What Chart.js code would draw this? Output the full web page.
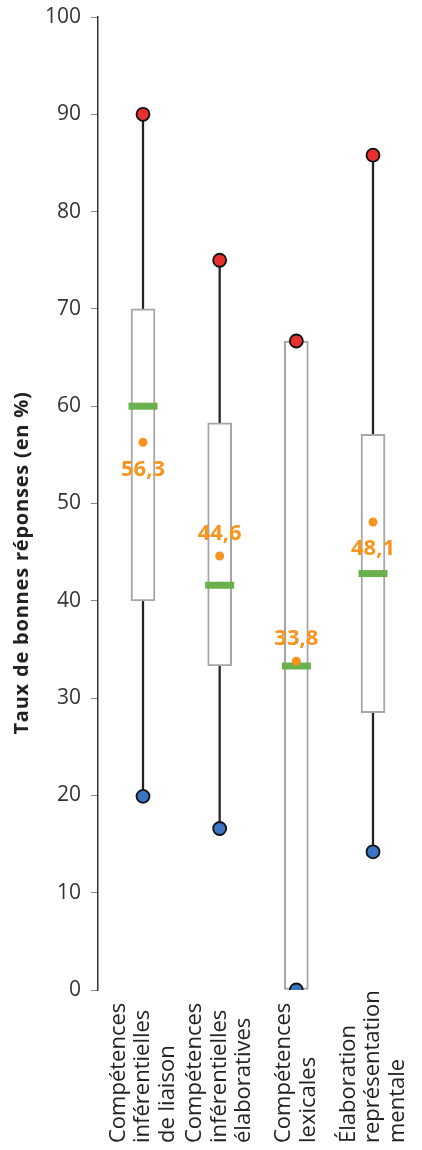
<!DOCTYPE html>
<html lang="fr">
<head>
<meta charset="utf-8">
<title>Taux de bonnes réponses</title>
<script src="https://cdn.jsdelivr.net/npm/chart.js@4/dist/chart.umd.min.js"></script>
<style>
    html, body { margin: 0; padding: 0; background: #fff; }
    #wrap { position: relative; width: 422px; height: 1150px; }
</style>
</head>
<body>
<div id="wrap"><canvas id="boxChart"></canvas></div>
<script>
// Chart data
const categories = [
    ['Compétences', 'inférentielles', 'de liaison'],
    ['Compétences', 'inférentielles', 'élaboratives'],
    ['Compétences', 'lexicales'],
    ['Élaboration', 'représentation', 'mentale']
];
const minValues = [19.9, 16.6, 0, 14.2];
const q1Values = [40, 33.3, 0, 28.5];
const medianValues = [60, 41.6, 33.3, 42.8];
const q3Values = [70, 58.3, 66.7, 57.1];
const maxValues = [90, 75, 66.7, 85.8];
const meanValues = [56.3, 44.6, 33.8, 48.1];
const yTicks = [0, 10, 20, 30, 40, 50, 60, 70, 80, 90, 100];

const FONT = "'Open Sans', sans-serif";

// build datasets from the arrays
const whiskerData = categories.map((c, i) => ({ x: i, y: [minValues[i], maxValues[i]] }));
const boxData = categories.map((c, i) => ({ x: i, y: [q1Values[i], q3Values[i]] }));
const medianData = categories.map((c, i) => ({ x: i, y: medianValues[i] }));
const meanData = categories.map((c, i) => ({ x: i, y: meanValues[i] }));
const maxData = categories.map((c, i) => ({ x: i, y: maxValues[i] }));
const minData = categories.map((c, i) => ({ x: i, y: minValues[i] }));

// label above (-) or below (+) the mean dot, in px
const meanLabelShift = [28, -22, -22, 27];

const meanLabels = {
    id: 'meanLabels',
    afterDatasetsDraw(chart) {
        const ctx = chart.ctx;
        const meta = chart.getDatasetMeta(1);
        ctx.save();
        ctx.font = "bold 22px " + FONT;
        ctx.fillStyle = '#f7941d';
        ctx.textAlign = 'center';
        ctx.textBaseline = 'middle';
        meta.data.forEach((pt, i) => {
            const txt = meanValues[i].toFixed(1).replace('.', ',');
            ctx.fillText(txt, pt.x, pt.y + meanLabelShift[i]);
        });
        ctx.restore();
    }
};

// category labels, vertical, lines read bottom to top
const categoryLabels = {
    id: 'categoryLabels',
    afterDraw(chart) {
        const ctx = chart.ctx;
        const xScale = chart.scales.x;
        const lineH = 24.5;
        ctx.save();
        ctx.font = "22px " + FONT;
        ctx.fillStyle = '#222';
        ctx.textAlign = 'left';
        ctx.textBaseline = 'middle';
        categories.forEach((lines, i) => {
            const cx = xScale.getPixelForValue(i);
            lines.forEach((line, j) => {
                const off = (j - (lines.length - 1) / 2) * lineH;
                ctx.save();
                ctx.translate(cx + off, 1143);
                ctx.rotate(-Math.PI / 2);
                ctx.fillText(line, 0, 0);
                ctx.restore();
            });
        });
        ctx.restore();
    }
};

const yTitle = {
    id: 'yTitle',
    afterDraw(chart) {
        const ctx = chart.ctx;
        ctx.save();
        ctx.translate(22, 563);
        ctx.rotate(-Math.PI / 2);
        ctx.font = "bold 20px " + FONT;
        ctx.letterSpacing = '0.8px';
        ctx.fillStyle = '#222';
        ctx.textAlign = 'center';
        ctx.textBaseline = 'middle';
        ctx.fillText('Taux de bonnes réponses (en %)', 0, 0);
        ctx.restore();
    }
};

const ctx = document.getElementById('boxChart').getContext('2d');
const boxChart = new Chart(ctx, {
    data: {
        datasets: [
            {
                type: 'scatter', data: maxData, order: 0,
                pointRadius: 6.5, pointBackgroundColor: '#e8302e',
                pointBorderColor: '#111', pointBorderWidth: 1.8
            },
            {
                type: 'scatter', data: meanData, order: 1,
                pointRadius: 4.5, pointBackgroundColor: '#f7941d',
                pointBorderWidth: 0
            },
            {
                type: 'scatter', data: minData, order: 0,
                pointRadius: 6.5, pointBackgroundColor: '#3b74c2',
                pointBorderColor: '#111', pointBorderWidth: 1.8
            },
            {
                type: 'scatter', data: medianData, order: 2,
                pointStyle: 'line', pointRadius: 14.5,
                pointBorderColor: '#6ab04c', pointBorderWidth: 7
            },
            {
                type: 'bar', data: boxData, order: 3,
                backgroundColor: '#fff', borderColor: '#a6a6a6', borderWidth: 2,
                borderSkipped: false, barThickness: 24, grouped: false
            },
            {
                type: 'bar', data: whiskerData, order: 4,
                backgroundColor: '#222', borderWidth: 0,
                barThickness: 1.6, grouped: false
            }
        ]
    },
    options: {
        responsive: true,
        maintainAspectRatio: false,
        animation: false,
        layout: { autoPadding: false, padding: { left: 45, right: 2, top: 17, bottom: 152 } },
        plugins: { legend: { display: false }, tooltip: { enabled: false } },
        scales: {
            x: {
                type: 'linear',
                offset: false,
                min: -0.587,
                max: 3.613,
                ticks: { display: false },
                grid: { display: false },
                border: { display: false }
            },
            y: {
                min: 0,
                max: 100,
                afterBuildTicks: axis => { axis.ticks = yTicks.map(v => ({ value: v })); },
                afterFit: axis => { axis.width = 53; axis.paddingTop = 0; },
                ticks: {
                    padding: 10,
                    color: '#333',
                    font: { family: FONT, size: 21 }
                },
                grid: { drawOnChartArea: false, drawTicks: true, tickLength: 7, color: '#888' },
                border: { display: true, color: '#333', width: 1.5 }
            }
        }
    },
    plugins: [meanLabels, categoryLabels, yTitle]
});
</script>
</body>
</html>
